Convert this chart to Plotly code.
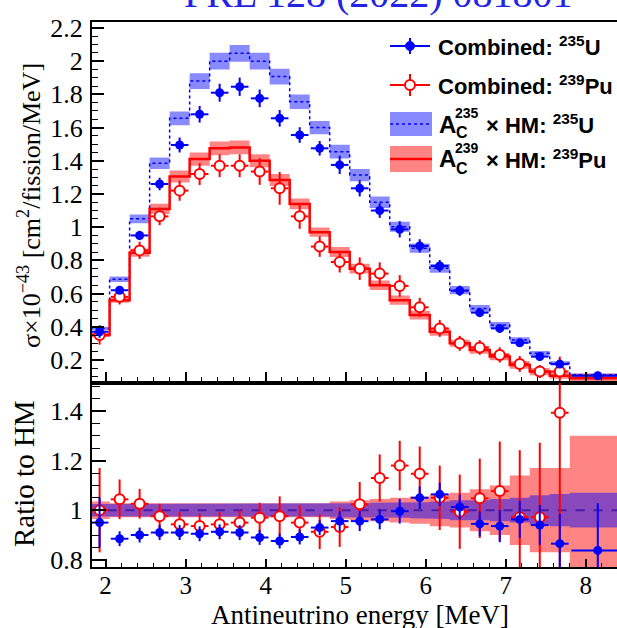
import numpy as np
import plotly.graph_objects as go

# ---------------- data ----------------
bin_edges = [1.80, 2.05, 2.30, 2.55, 2.80, 3.05, 3.30, 3.55, 3.80, 4.05, 4.30, 4.55, 4.80,
             5.05, 5.30, 5.55, 5.80, 6.05, 6.30, 6.55, 6.80, 7.05, 7.30, 7.55, 7.80, 8.50]

# Combined 235U (upper panel, sigma x 1e-43)
u235_data = [0.37, 0.62, 0.95, 1.26, 1.495, 1.68, 1.81, 1.846, 1.776, 1.656, 1.555, 1.475, 1.375,
             1.234, 1.10, 0.987, 0.887, 0.766, 0.617, 0.485, 0.39, 0.303, 0.22, 0.175, 0.105]
u235_err = [0.037, 0.019, 0.028, 0.038, 0.045, 0.05, 0.054, 0.055, 0.053, 0.05, 0.047, 0.044, 0.055,
            0.049, 0.044, 0.049, 0.04, 0.036, 0.031, 0.024, 0.025, 0.023, 0.018, 0.021, 0.02]
# A_C x HM 235U
u235_hm = [0.39, 0.686, 1.05, 1.385, 1.656, 1.88, 2.0, 2.047, 2.0, 1.907, 1.756, 1.60, 1.455,
           1.314, 1.15, 1.003, 0.873, 0.752, 0.62, 0.51, 0.41, 0.32, 0.24, 0.18, 0.11]
u235_hm_frac = [0.025, 0.025, 0.025, 0.025, 0.025, 0.025, 0.025, 0.025, 0.025, 0.025, 0.025, 0.025,
                0.028, 0.028, 0.03, 0.03, 0.032, 0.035, 0.04, 0.04, 0.045, 0.05, 0.06, 0.065, 0.07]

# Combined 239Pu
pu239_data = [0.35, 0.58, 0.86, 1.065, 1.22, 1.32, 1.37, 1.37, 1.335, 1.234, 1.065, 0.883, 0.79,
              0.75, 0.72, 0.646, 0.517, 0.39, 0.30, 0.275, 0.23, 0.176, 0.13, 0.13]
pu239_err = [0.058, 0.046, 0.052, 0.053, 0.061, 0.066, 0.069, 0.069, 0.08, 0.099, 0.075, 0.062, 0.063,
             0.068, 0.068, 0.065, 0.057, 0.051, 0.045, 0.044, 0.046, 0.048, 0.039, 0.09]
# A_C x HM 239Pu
pu239_hm = [0.35, 0.56, 0.846, 1.11, 1.305, 1.41, 1.475, 1.48, 1.40, 1.284, 1.14, 0.97, 0.85,
            0.75, 0.65, 0.56, 0.47, 0.37, 0.30, 0.26, 0.22, 0.17, 0.13, 0.105, 0.09]
pu239_hm_frac = [0.035, 0.028, 0.028, 0.028, 0.028, 0.028, 0.028, 0.028, 0.028, 0.028, 0.028, 0.028,
                 0.035, 0.04, 0.045, 0.05, 0.055, 0.065, 0.07, 0.085, 0.10, 0.14, 0.17, 0.17, 0.30]

# Ratio to HM (lower panel)
u235_ratio = [0.95, 0.885, 0.90, 0.91, 0.91, 0.905, 0.913, 0.91, 0.89, 0.876, 0.892, 0.93, 0.956,
              0.956, 0.963, 0.996, 1.05, 1.064, 1.013, 0.945, 0.936, 0.963, 0.94, 0.865, 0.838]
u235_ratio_err = [0.10, 0.03, 0.03, 0.03, 0.03, 0.03, 0.03, 0.03, 0.03, 0.03, 0.03, 0.03, 0.04,
                  0.04, 0.04, 0.05, 0.045, 0.047, 0.05, 0.05, 0.065, 0.075, 0.08, 0.12, 0.19]
pu239_ratio = [1.0, 1.044, 1.026, 0.976, 0.943, 0.936, 0.943, 0.95, 0.97, 0.976, 0.95, 0.913, 0.932,
               1.024, 1.13, 1.18, 1.147, 1.05, 0.994, 1.048, 1.077, 0.972, 0.972, 1.393]
pu239_ratio_err = [0.17, 0.08, 0.06, 0.05, 0.05, 0.05, 0.05, 0.05, 0.06, 0.08, 0.07, 0.07, 0.08,
                   0.09, 0.095, 0.10, 0.11, 0.13, 0.15, 0.16, 0.20, 0.27, 0.30, 0.70]
x_half_err = [0.11] * 24 + [0.33]

# ---------------- styling ----------------
BLUE = "#0000ff"
RED = "#ff0000"
BLUE_FILL = "rgba(0,0,255,0.46)"
RED_FILL = "rgba(255,0,0,0.48)"
SERIF = "Liberation Serif"
SANS = "Liberation Sans"

W, H = 617, 628
ML, MR, MT, MB = 92, 0, 22, 61
PW = W - ML - MR
PH = H - MT - MB
SPLIT = 383  # pixel row of the panel boundary
lower_top = (H - MB - SPLIT) / PH

edges = np.array(bin_edges)
centers = (edges[:-1] + edges[1:]) / 2


def step_xy(vals):
    xs, ys = [], []
    for i, v in enumerate(vals):
        xs += [edges[i], edges[i + 1]]
        ys += [v, v]
    return xs, ys


def band(vals_lo, vals_hi):
    xs, ylo = step_xy(vals_lo)
    _, yhi = step_xy(vals_hi)
    return xs + xs[::-1], yhi + ylo[::-1]


fig = go.Figure()

# ---------- upper panel ----------
u_hm = np.array(u235_hm)
p_hm = np.array(pu239_hm)
bx, by = band(u_hm * (1 - np.array(u235_hm_frac)), u_hm * (1 + np.array(u235_hm_frac)))
fig.add_trace(go.Scatter(x=bx, y=by, fill="toself", fillcolor=BLUE_FILL, line=dict(width=0),
                         mode="lines", xaxis="x", yaxis="y", hoverinfo="skip", showlegend=False))
rx, ry = band(p_hm * (1 - np.array(pu239_hm_frac)), p_hm * (1 + np.array(pu239_hm_frac)))
fig.add_trace(go.Scatter(x=rx, y=ry, fill="toself", fillcolor=RED_FILL, line=dict(width=0),
                         mode="lines", xaxis="x", yaxis="y", hoverinfo="skip", showlegend=False))
sx, sy = step_xy(u235_hm)
fig.add_trace(go.Scatter(x=sx, y=sy, mode="lines", line=dict(color=BLUE, width=1.5, dash="dot"),
                         xaxis="x", yaxis="y", showlegend=False))
sx, sy = step_xy(pu239_hm)
fig.add_trace(go.Scatter(x=sx, y=sy, mode="lines", line=dict(color=RED, width=2.5),
                         xaxis="x", yaxis="y", showlegend=False))

fig.add_trace(go.Scatter(
    x=centers[:len(pu239_data)], y=pu239_data, mode="markers",
    marker=dict(symbol="circle", size=10, color="white", line=dict(color=RED, width=2)),
    error_y=dict(type="data", array=pu239_err, color=RED, thickness=2, width=0),
    error_x=dict(type="data", array=x_half_err[:len(pu239_data)], color=RED, thickness=2, width=0),
    xaxis="x", yaxis="y", showlegend=False))
fig.add_trace(go.Scatter(
    x=centers, y=u235_data, mode="markers",
    marker=dict(symbol="circle", size=9, color=BLUE),
    error_y=dict(type="data", array=u235_err, color=BLUE, thickness=2, width=0),
    error_x=dict(type="data", array=x_half_err, color=BLUE, thickness=2, width=0),
    xaxis="x", yaxis="y", showlegend=False))

# ---------- lower panel ----------
ones = np.ones(len(bin_edges) - 1)
rx, ry = band(ones - np.array(pu239_hm_frac), ones + np.array(pu239_hm_frac))
fig.add_trace(go.Scatter(x=rx, y=ry, fill="toself", fillcolor=RED_FILL, line=dict(width=0),
                         mode="lines", xaxis="x2", yaxis="y2", hoverinfo="skip", showlegend=False))
bx, by = band(ones - np.array(u235_hm_frac), ones + np.array(u235_hm_frac))
fig.add_trace(go.Scatter(x=bx, y=by, fill="toself", fillcolor=BLUE_FILL, line=dict(width=0),
                         mode="lines", xaxis="x2", yaxis="y2", hoverinfo="skip", showlegend=False))
sx, sy = step_xy(ones)
fig.add_trace(go.Scatter(x=sx, y=sy, mode="lines", line=dict(color="#4a1aa8", width=2, dash="dash"),
                         xaxis="x2", yaxis="y2", showlegend=False))
fig.add_trace(go.Scatter(
    x=centers[:len(pu239_ratio)], y=pu239_ratio, mode="markers",
    marker=dict(symbol="circle", size=10, color="white", line=dict(color=RED, width=2)),
    error_y=dict(type="data", array=pu239_ratio_err, color=RED, thickness=2, width=0),
    error_x=dict(type="data", array=x_half_err[:len(pu239_ratio)], color=RED, thickness=2, width=0),
    xaxis="x2", yaxis="y2", showlegend=False))
fig.add_trace(go.Scatter(
    x=centers, y=u235_ratio, mode="markers",
    marker=dict(symbol="circle", size=9, color=BLUE),
    error_y=dict(type="data", array=u235_ratio_err, color=BLUE, thickness=2, width=0),
    error_x=dict(type="data", array=x_half_err, color=BLUE, thickness=2, width=0),
    xaxis="x2", yaxis="y2", showlegend=False))

XR = [1.83, 8.39]
tickfont = dict(family=SERIF, size=25, color="black")

fig.update_layout(
    width=W, height=H, margin=dict(l=ML, r=MR, t=MT, b=MB, autoexpand=False),
    paper_bgcolor="white", plot_bgcolor="white", showlegend=False,
    xaxis=dict(domain=[0, 1], anchor="y", range=XR, showline=True, linecolor="black", linewidth=2,
               mirror=True, ticks="inside", ticklen=11, tickwidth=1.5, tickcolor="black",
               dtick=1, tick0=0, showticklabels=False, showgrid=False, zeroline=False, automargin=False,
               minor=dict(dtick=0.2, ticklen=6, ticks="inside", tickcolor="black", tickwidth=1.2)),
    yaxis=dict(domain=[lower_top, 1], anchor="x", range=[0.061, 2.236], showline=True,
               linecolor="black", linewidth=2, ticks="inside", ticklen=12, tickwidth=1.5,
               tickcolor="black", dtick=0.2, tick0=0, showgrid=False, zeroline=False,
               tickfont=dict(family=SERIF, size=26, color="black"), ticklabelstandoff=2,
               automargin=False,
               minor=dict(dtick=0.05, ticklen=6, ticks="inside", tickcolor="black", tickwidth=1.2)),
    xaxis2=dict(domain=[0, 1], anchor="y2", range=XR, showline=True, linecolor="black", linewidth=2,
                mirror=True, ticks="inside", ticklen=8, tickwidth=1.5, tickcolor="black",
                dtick=1, tick0=0, showgrid=False, zeroline=False, tickfont=tickfont,
                ticklabelstandoff=-5, automargin=False,
                minor=dict(dtick=0.2, ticklen=4, ticks="inside", tickcolor="black", tickwidth=1.2)),
    yaxis2=dict(domain=[0, lower_top], anchor="x2", range=[0.771, 1.513], showline=True,
                linecolor="black", linewidth=2, ticks="inside", ticklen=14, tickwidth=1.5,
                tickcolor="black", tickvals=[0.8, 1.0, 1.2, 1.4], ticktext=["0.8", "1", "1.2", "1.4"],
                showgrid=False, zeroline=False, tickfont=dict(family=SERIF, size=26, color="black"),
                ticklabelstandoff=2, automargin=False,
                minor=dict(dtick=0.05, ticklen=8, ticks="inside", tickcolor="black", tickwidth=1.2)),
)


def P(px):
    return (px - ML) / PW


def Q(py):
    return (H - MB - py) / PH


shapes = []
# legend row 1: combined 235U
shapes.append(dict(type="line", xref="paper", yref="paper", x0=P(390), x1=P(430), y0=Q(46), y1=Q(46),
                   line=dict(color=BLUE, width=2)))
shapes.append(dict(type="line", xref="paper", yref="paper", x0=P(410), x1=P(410), y0=Q(38), y1=Q(54),
                   line=dict(color=BLUE, width=2)))
shapes.append(dict(type="circle", xref="paper", yref="paper", xsizemode="pixel", ysizemode="pixel",
                   xanchor=P(410), yanchor=Q(46), x0=-4.5, x1=4.5, y0=-4.5, y1=4.5,
                   fillcolor=BLUE, line=dict(color=BLUE, width=1)))
# legend row 2: combined 239Pu
shapes.append(dict(type="line", xref="paper", yref="paper", x0=P(390), x1=P(430), y0=Q(85), y1=Q(85),
                   line=dict(color=RED, width=2)))
shapes.append(dict(type="line", xref="paper", yref="paper", x0=P(410), x1=P(410), y0=Q(74), y1=Q(96),
                   line=dict(color=RED, width=2)))
shapes.append(dict(type="circle", xref="paper", yref="paper", xsizemode="pixel", ysizemode="pixel",
                   xanchor=P(410), yanchor=Q(85), x0=-5, x1=5, y0=-5, y1=5,
                   fillcolor="white", line=dict(color=RED, width=2)))
# legend row 3: HM 235U band
shapes.append(dict(type="rect", xref="paper", yref="paper", x0=P(390), x1=P(432), y0=Q(136), y1=Q(112),
                   fillcolor=BLUE_FILL, line=dict(width=0)))
shapes.append(dict(type="line", xref="paper", yref="paper", x0=P(390), x1=P(432), y0=Q(124), y1=Q(124),
                   line=dict(color=BLUE, width=1.5, dash="dot")))
# legend row 4: HM 239Pu band
shapes.append(dict(type="rect", xref="paper", yref="paper", x0=P(390), x1=P(432), y0=Q(172), y1=Q(146),
                   fillcolor=RED_FILL, line=dict(width=0)))
shapes.append(dict(type="line", xref="paper", yref="paper", x0=P(390), x1=P(432), y0=Q(159), y1=Q(159),
                   line=dict(color=RED, width=2.5)))
fig.update_layout(shapes=shapes)

LF = dict(family=SANS, size=22, color="black")


def ann(x, y, text, font, xanchor="left", yanchor="middle", angle=0, yshift=0):
    fig.add_annotation(x=x, y=y, xref="paper", yref="paper", text=text, showarrow=False,
                       xanchor=xanchor, yanchor=yanchor, font=font, textangle=angle, borderpad=0,
                       yshift=yshift)


ann(P(437), Q(46), "<b>Combined: <sup>235</sup>U</b>", LF)
ann(P(437), Q(85), "<b>Combined: <sup>239</sup>Pu</b>", LF)
for yc, iso, el in [(124, "235", "U"), (159, "239", "Pu")]:
    ann(P(438), Q(yc), "<b>A</b>", dict(family=SANS, size=24, color="black"))
    ann(P(454), Q(yc - 11), "<b>%s</b>" % iso, dict(family=SANS, size=14, color="black"))
    ann(P(455), Q(yc + 9), "<b>C</b>", dict(family=SANS, size=16, color="black"))
    ann(P(485), Q(yc), "<b>× HM: <sup>%s</sup>%s</b>" % (iso, el), LF)

# title (cut off at top of the figure)
ann(P(378), 1.0, "PRL 128 (2022) 081801", dict(family=SERIF, size=40, color="#2323e6"),
    xanchor="center", yanchor="bottom", yshift=5)
# axis titles
ann(P(29), Q(206), "σ×10<sup>−43</sup> [cm<sup>2</sup>/fission/MeV]",
    dict(family=SERIF, size=26, color="black"), xanchor="center", angle=-90)
ann(P(24), Q(474), "Ratio to HM", dict(family=SERIF, size=29, color="black"), xanchor="center", angle=-90)
ann(P(360), Q(615), "Antineutrino energy [MeV]", dict(family=SERIF, size=27, color="black"),
    xanchor="center")

# remove the browser's default page margin so the figure sits at the window origin
fig.write_html("out.html", config={"displayModeBar": False},
               post_script="document.body.style.margin='0px';")
